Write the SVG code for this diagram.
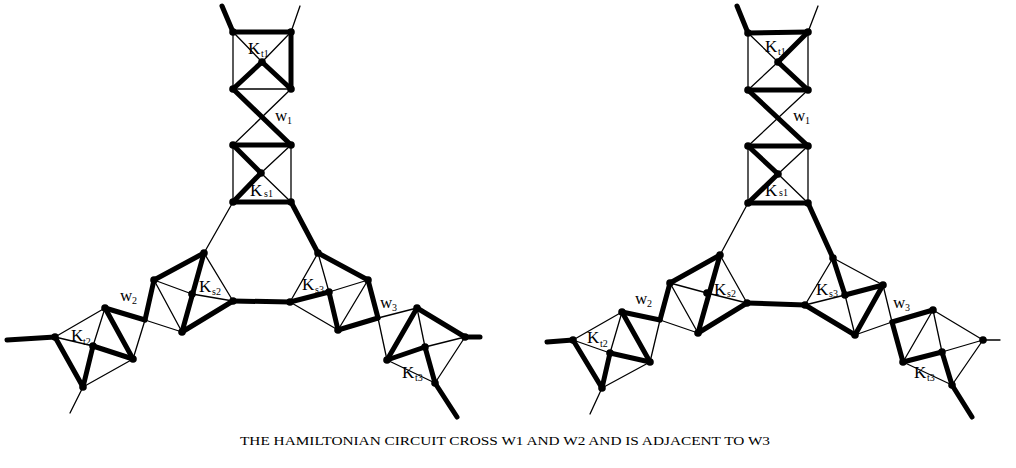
<svg xmlns="http://www.w3.org/2000/svg" width="1016" height="468" viewBox="0 0 1016 468">
<style>
.k{stroke:#000;stroke-width:5;stroke-linecap:round;fill:none}
.n{stroke:#000;stroke-width:1.3;stroke-linecap:round;fill:none}
.d{fill:#000}
.lb{font-family:"Liberation Serif",serif;font-size:17px;fill:#000}
.sb{font-family:"Liberation Serif",serif;font-size:10px;fill:#000}
.cap{font-family:"Liberation Serif",serif;font-size:13.5px;fill:#000}
</style>
<rect width="1016" height="468" fill="#fff"/>
<g id="connectors">
 <!-- LEFT FIGURE -->
 <line class="k" x1="233" y1="32" x2="222" y2="6"/>
 <line class="n" x1="291" y1="32" x2="300" y2="6"/>
 <line class="k" x1="233" y1="32" x2="291" y2="32"/>
 <line class="k" x1="291" y1="32" x2="291" y2="89"/>
 <line class="k" x1="291" y1="89" x2="262" y2="62"/>
 <line class="k" x1="262" y1="62" x2="233" y2="89"/>
 <line class="n" x1="233" y1="32" x2="233" y2="89"/>
 <line class="n" x1="233" y1="89" x2="291" y2="89"/>
 <line class="n" x1="233" y1="32" x2="262" y2="62"/>
 <line class="n" x1="291" y1="32" x2="262" y2="62"/>
 <line class="k" x1="233" y1="89" x2="291" y2="145"/>
 <line class="n" x1="291" y1="89" x2="233" y2="145"/>
 <line class="k" x1="233" y1="145" x2="291" y2="145"/>
 <line class="k" x1="233" y1="145" x2="261" y2="173"/>
 <line class="k" x1="261" y1="173" x2="233" y2="202"/>
 <line class="k" x1="233" y1="202" x2="291" y2="202"/>
 <line class="n" x1="233" y1="145" x2="233" y2="202"/>
 <line class="n" x1="291" y1="145" x2="291" y2="202"/>
 <line class="n" x1="291" y1="145" x2="261" y2="173"/>
 <line class="n" x1="261" y1="173" x2="291" y2="202"/>
 <line class="n" x1="233" y1="202" x2="204" y2="253"/>
 <line class="k" x1="291" y1="202" x2="318" y2="253"/>
 <line class="k" x1="204" y1="253" x2="154" y2="280"/>
 <line class="k" x1="204" y1="253" x2="182" y2="332"/>
 <line class="k" x1="182" y1="332" x2="233" y2="301"/>
 <line class="n" x1="154" y1="280" x2="192" y2="294"/>
 <line class="n" x1="192" y1="294" x2="233" y2="301"/>
 <line class="n" x1="204" y1="253" x2="233" y2="301"/>
 <line class="n" x1="154" y1="280" x2="182" y2="332"/>
 <line class="k" x1="233" y1="301" x2="290" y2="302"/>
 <line class="k" x1="154" y1="280" x2="145" y2="320"/>
 <line class="k" x1="145" y1="320" x2="105" y2="308"/>
 <line class="n" x1="145" y1="320" x2="133" y2="359"/>
 <line class="n" x1="145" y1="320" x2="182" y2="332"/>
 <line class="k" x1="105" y1="308" x2="133" y2="359"/>
 <line class="k" x1="133" y1="359" x2="93" y2="346"/>
 <line class="k" x1="93" y1="346" x2="83" y2="387"/>
 <line class="k" x1="83" y1="387" x2="55" y2="337"/>
 <line class="k" x1="55" y1="337" x2="7" y2="340"/>
 <line class="n" x1="55" y1="337" x2="105" y2="308"/>
 <line class="n" x1="55" y1="337" x2="93" y2="346"/>
 <line class="n" x1="105" y1="308" x2="93" y2="346"/>
 <line class="n" x1="133" y1="359" x2="83" y2="387"/>
 <line class="n" x1="83" y1="387" x2="70" y2="413"/>
 <line class="k" x1="318" y1="253" x2="368" y2="280"/>
 <line class="k" x1="368" y1="280" x2="378" y2="318"/>
 <line class="k" x1="378" y1="318" x2="338" y2="330"/>
 <line class="k" x1="338" y1="330" x2="329" y2="292"/>
 <line class="k" x1="329" y1="292" x2="290" y2="302"/>
 <line class="n" x1="318" y1="253" x2="329" y2="292"/>
 <line class="n" x1="318" y1="253" x2="290" y2="302"/>
 <line class="n" x1="290" y1="302" x2="338" y2="330"/>
 <line class="n" x1="329" y1="292" x2="368" y2="280"/>
 <line class="n" x1="368" y1="280" x2="338" y2="330"/>
 <line class="n" x1="378" y1="318" x2="417" y2="308"/>
 <line class="n" x1="378" y1="318" x2="387" y2="360"/>
 <line class="k" x1="417" y1="308" x2="465" y2="337"/>
 <line class="k" x1="417" y1="308" x2="387" y2="360"/>
 <line class="k" x1="387" y1="360" x2="425" y2="347"/>
 <line class="k" x1="425" y1="347" x2="435" y2="383"/>
 <line class="k" x1="435" y1="383" x2="457" y2="417"/>
 <line class="k" x1="465" y1="337" x2="480" y2="337"/>
 <line class="n" x1="417" y1="308" x2="425" y2="347"/>
 <line class="n" x1="425" y1="347" x2="465" y2="337"/>
 <line class="n" x1="387" y1="360" x2="435" y2="383"/>
 <line class="n" x1="465" y1="337" x2="435" y2="383"/>

 <!-- RIGHT FIGURE -->
 <line class="k" x1="748" y1="33" x2="737" y2="6"/>
 <line class="n" x1="808" y1="32" x2="818" y2="6"/>
 <line class="k" x1="748" y1="33" x2="808" y2="32"/>
 <line class="k" x1="808" y1="32" x2="778" y2="62"/>
 <line class="k" x1="778" y1="62" x2="808" y2="90"/>
 <line class="k" x1="808" y1="90" x2="748" y2="90"/>
 <line class="n" x1="748" y1="33" x2="748" y2="90"/>
 <line class="n" x1="808" y1="32" x2="808" y2="90"/>
 <line class="n" x1="748" y1="33" x2="778" y2="62"/>
 <line class="n" x1="778" y1="62" x2="748" y2="90"/>
 <line class="k" x1="748" y1="90" x2="808" y2="146"/>
 <line class="n" x1="808" y1="90" x2="748" y2="146"/>
 <line class="k" x1="748" y1="146" x2="808" y2="146"/>
 <line class="k" x1="748" y1="146" x2="778" y2="174"/>
 <line class="k" x1="778" y1="174" x2="748" y2="203"/>
 <line class="k" x1="748" y1="203" x2="808" y2="203"/>
 <line class="n" x1="748" y1="146" x2="748" y2="203"/>
 <line class="n" x1="808" y1="146" x2="808" y2="203"/>
 <line class="n" x1="808" y1="146" x2="778" y2="174"/>
 <line class="n" x1="778" y1="174" x2="808" y2="203"/>
 <line class="n" x1="748" y1="203" x2="720" y2="255"/>
 <line class="k" x1="808" y1="203" x2="833" y2="258"/>
 <line class="k" x1="720" y1="255" x2="670" y2="283"/>
 <line class="k" x1="720" y1="255" x2="698" y2="333"/>
 <line class="k" x1="698" y1="333" x2="747" y2="303"/>
 <line class="n" x1="670" y1="283" x2="707" y2="293"/>
 <line class="n" x1="707" y1="293" x2="747" y2="303"/>
 <line class="n" x1="720" y1="255" x2="747" y2="303"/>
 <line class="n" x1="670" y1="283" x2="698" y2="333"/>
 <line class="k" x1="747" y1="303" x2="805" y2="305"/>
 <line class="k" x1="670" y1="283" x2="660" y2="320"/>
 <line class="k" x1="660" y1="320" x2="622" y2="312"/>
 <line class="n" x1="660" y1="320" x2="650" y2="362"/>
 <line class="n" x1="660" y1="320" x2="698" y2="333"/>
 <line class="k" x1="622" y1="312" x2="650" y2="362"/>
 <line class="k" x1="650" y1="362" x2="610" y2="353"/>
 <line class="k" x1="610" y1="353" x2="602" y2="388"/>
 <line class="k" x1="602" y1="388" x2="573" y2="340"/>
 <line class="k" x1="573" y1="340" x2="547" y2="342"/>
 <line class="n" x1="573" y1="340" x2="622" y2="312"/>
 <line class="n" x1="573" y1="340" x2="610" y2="353"/>
 <line class="n" x1="622" y1="312" x2="610" y2="353"/>
 <line class="n" x1="650" y1="362" x2="602" y2="388"/>
 <line class="n" x1="602" y1="388" x2="590" y2="414"/>
 <line class="k" x1="833" y1="258" x2="845" y2="295"/>
 <line class="k" x1="845" y1="295" x2="883" y2="285"/>
 <line class="k" x1="883" y1="285" x2="855" y2="335"/>
 <line class="k" x1="855" y1="335" x2="805" y2="305"/>
 <line class="n" x1="833" y1="258" x2="883" y2="285"/>
 <line class="n" x1="833" y1="258" x2="805" y2="305"/>
 <line class="n" x1="805" y1="305" x2="845" y2="295"/>
 <line class="n" x1="845" y1="295" x2="855" y2="335"/>
 <line class="n" x1="883" y1="285" x2="892" y2="322"/>
 <line class="n" x1="855" y1="335" x2="892" y2="322"/>
 <line class="k" x1="892" y1="322" x2="933" y2="310"/>
 <line class="k" x1="892" y1="322" x2="903" y2="362"/>
 <line class="k" x1="903" y1="362" x2="942" y2="352"/>
 <line class="k" x1="942" y1="352" x2="952" y2="385"/>
 <line class="k" x1="952" y1="385" x2="972" y2="417"/>
 <line class="n" x1="983" y1="340" x2="1000" y2="340"/>
 <line class="n" x1="933" y1="310" x2="983" y2="340"/>
 <line class="n" x1="933" y1="310" x2="903" y2="362"/>
 <line class="n" x1="933" y1="310" x2="942" y2="352"/>
 <line class="n" x1="942" y1="352" x2="983" y2="340"/>
 <line class="n" x1="903" y1="362" x2="952" y2="385"/>
 <line class="n" x1="983" y1="340" x2="952" y2="385"/>
</g>

<g id="L-Kt1">
 <circle class="d" cx="233" cy="32" r="3.8"/><circle class="d" cx="291" cy="32" r="3.8"/><circle class="d" cx="262" cy="62" r="3.8"/><circle class="d" cx="233" cy="89" r="3.8"/><circle class="d" cx="291" cy="89" r="3.8"/>
 <text class="lb" x="248" y="54">K</text><text class="sb" x="261" y="57">t1</text>
</g>
<g id="L-w1"><text class="lb" x="275" y="121">w</text><text class="sb" x="287" y="124">1</text></g>
<g id="L-Ks1">
 <circle class="d" cx="233" cy="145" r="3.8"/><circle class="d" cx="291" cy="145" r="3.8"/><circle class="d" cx="261" cy="173" r="3.8"/><circle class="d" cx="233" cy="202" r="3.8"/><circle class="d" cx="291" cy="202" r="3.8"/>
 <text class="lb" x="250" y="196">K</text><text class="sb" x="264" y="197">s1</text>
</g>
<g id="L-Ks2">
 <circle class="d" cx="204" cy="253" r="3.8"/><circle class="d" cx="154" cy="280" r="3.8"/><circle class="d" cx="192" cy="294" r="3.8"/><circle class="d" cx="233" cy="301" r="3.8"/><circle class="d" cx="182" cy="332" r="3.8"/>
 <text class="lb" x="199" y="292">K</text><text class="sb" x="212" y="295">s2</text>
</g>
<g id="L-w2"><text class="lb" x="120" y="301">w</text><text class="sb" x="132" y="304">2</text></g>
<g id="L-Kt2">
 <circle class="d" cx="55" cy="337" r="3.8"/><circle class="d" cx="105" cy="308" r="3.8"/><circle class="d" cx="93" cy="346" r="3.8"/><circle class="d" cx="133" cy="359" r="3.8"/><circle class="d" cx="83" cy="387" r="3.8"/>
 <text class="lb" x="71" y="341">K</text><text class="sb" x="83" y="345">t2</text>
</g>
<g id="L-Ks3">
 <circle class="d" cx="318" cy="253" r="3.8"/><circle class="d" cx="368" cy="280" r="3.8"/><circle class="d" cx="329" cy="292" r="3.8"/><circle class="d" cx="290" cy="302" r="3.8"/><circle class="d" cx="338" cy="330" r="3.8"/>
 <text class="lb" x="302" y="290">K</text><text class="sb" x="315" y="293">s3</text>
</g>
<g id="L-w3"><text class="lb" x="380" y="308">w</text><text class="sb" x="392" y="311">3</text></g>
<g id="L-Kt3">
 <circle class="d" cx="417" cy="308" r="3.8"/><circle class="d" cx="465" cy="337" r="3.8"/><circle class="d" cx="425" cy="347" r="3.8"/><circle class="d" cx="387" cy="360" r="3.8"/><circle class="d" cx="435" cy="383" r="3.8"/>
 <text class="lb" x="402" y="378">K</text><text class="sb" x="415" y="381">t3</text>
</g>

<g id="R-Kt1">
 <circle class="d" cx="748" cy="33" r="3.8"/><circle class="d" cx="808" cy="32" r="3.8"/><circle class="d" cx="778" cy="62" r="3.8"/><circle class="d" cx="748" cy="90" r="3.8"/><circle class="d" cx="808" cy="90" r="3.8"/>
 <text class="lb" x="765" y="52">K</text><text class="sb" x="778" y="55">t1</text>
</g>
<g id="R-w1"><text class="lb" x="793" y="121">w</text><text class="sb" x="805" y="124">1</text></g>
<g id="R-Ks1">
 <circle class="d" cx="748" cy="146" r="3.8"/><circle class="d" cx="808" cy="146" r="3.8"/><circle class="d" cx="778" cy="174" r="3.8"/><circle class="d" cx="748" cy="203" r="3.8"/><circle class="d" cx="808" cy="203" r="3.8"/>
 <text class="lb" x="765" y="196">K</text><text class="sb" x="779" y="196">s1</text>
</g>
<g id="R-Ks2">
 <circle class="d" cx="720" cy="255" r="3.8"/><circle class="d" cx="670" cy="283" r="3.8"/><circle class="d" cx="707" cy="293" r="3.8"/><circle class="d" cx="747" cy="303" r="3.8"/><circle class="d" cx="698" cy="333" r="3.8"/>
 <text class="lb" x="714" y="295">K</text><text class="sb" x="727" y="297">s2</text>
</g>
<g id="R-w2"><text class="lb" x="635" y="304">w</text><text class="sb" x="647" y="307">2</text></g>
<g id="R-Kt2">
 <circle class="d" cx="573" cy="340" r="3.8"/><circle class="d" cx="622" cy="312" r="3.8"/><circle class="d" cx="610" cy="353" r="3.8"/><circle class="d" cx="650" cy="362" r="3.8"/><circle class="d" cx="602" cy="388" r="3.8"/>
 <text class="lb" x="587" y="343">K</text><text class="sb" x="600" y="347">t2</text>
</g>
<g id="R-Ks3">
 <circle class="d" cx="833" cy="258" r="3.8"/><circle class="d" cx="883" cy="285" r="3.8"/><circle class="d" cx="845" cy="295" r="3.8"/><circle class="d" cx="805" cy="305" r="3.8"/><circle class="d" cx="855" cy="335" r="3.8"/>
 <text class="lb" x="816" y="295">K</text><text class="sb" x="829" y="297">s3</text>
</g>
<g id="R-w3"><text class="lb" x="893" y="308">w</text><text class="sb" x="905" y="311">3</text></g>
<g id="R-Kt3">
 <circle class="d" cx="933" cy="310" r="3.8"/><circle class="d" cx="983" cy="340" r="3.8"/><circle class="d" cx="942" cy="352" r="3.8"/><circle class="d" cx="903" cy="362" r="3.8"/><circle class="d" cx="952" cy="385" r="3.8"/>
 <text class="lb" x="914" y="378">K</text><text class="sb" x="927" y="381">t3</text>
</g>

<g id="caption">
 <text class="cap" x="505" y="445" text-anchor="middle" textLength="530" lengthAdjust="spacingAndGlyphs">THE HAMILTONIAN CIRCUIT CROSS W1 AND W2 AND IS ADJACENT TO W3</text>
</g>
</svg>
